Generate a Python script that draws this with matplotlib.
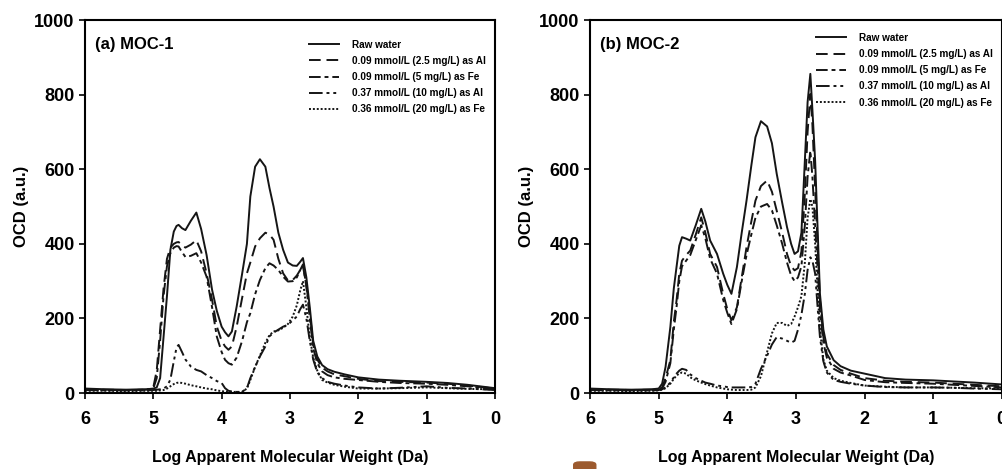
import matplotlib
matplotlib.use('Agg')
import matplotlib.pyplot as plt
from matplotlib.patches import FancyBboxPatch

plt.rcParams['font.family'] = ['Liberation Sans', 'DejaVu Sans']
plt.rcParams['font.weight'] = 'bold'

labels = ['Raw water',
          '0.09 mmol/L (2.5 mg/L) as Al',
          '0.09 mmol/L (5 mg/L) as Fe',
          '0.37 mmol/L (10 mg/L) as Al',
          '0.36 mmol/L (20 mg/L) as Fe']
styles = ['-', (0, (6, 3)), (0, (6, 2, 2, 2)), (0, (7, 2, 1.5, 2, 1.5, 2)), (0, (1, 1))]

# ---- panel (a) MOC-1 ----
xa = [6.0, 5.7, 5.4, 5.1, 5.0, 4.95, 4.9, 4.85, 4.8, 4.75, 4.7, 4.66, 4.63, 4.58, 4.53, 4.45,
      4.37, 4.3, 4.22, 4.14, 4.07, 4.0, 3.95, 3.9, 3.85, 3.78, 3.7, 3.63, 3.58, 3.51, 3.44,
      3.36, 3.3, 3.24, 3.17, 3.1, 3.03, 2.96, 2.9, 2.85, 2.81, 2.76, 2.71, 2.66, 2.6, 2.53,
      2.45, 2.35, 2.2, 2.0, 1.7, 1.4, 1.0, 0.7, 0.4, 0.0]
a_raw = [12, 10, 9, 10, 12, 15, 40, 150, 260, 384, 433, 448, 451, 442, 437, 462,
         484, 440, 370, 277, 220, 178, 163, 152, 165, 232, 320, 400, 527, 607, 627,
         607, 550, 500, 430, 384, 350, 342, 341, 352, 362, 310, 230, 140, 98, 75,
         64, 57, 50, 42, 36, 33, 30, 27, 22, 13]
a_al25 = [10, 9, 8, 9, 15, 60, 170, 280, 360, 390, 400, 404, 405, 397, 390, 398,
          410, 380, 321, 250, 178, 140, 125, 116, 125, 178, 255, 321, 350, 393, 415,
          430, 425, 411, 360, 321, 302, 303, 315, 330, 340, 290, 215, 130, 90, 68,
          58, 50, 45, 38, 32, 30, 28, 25, 20, 12]
a_fe5 = [9, 8, 8, 9, 12, 40, 140, 260, 340, 375, 390, 394, 393, 378, 365, 368,
         375, 350, 312, 230, 151, 110, 89, 80, 76, 95, 140, 190, 214, 265, 303,
         335, 348, 342, 330, 312, 299, 300, 310, 330, 345, 285, 200, 120, 80, 58,
         48, 42, 38, 35, 30, 27, 25, 22, 18, 10]
a_al10 = [8, 7, 7, 7, 8, 9, 10, 12, 18, 36, 85, 122, 129, 110, 90, 71,
          62, 58, 48, 40, 32, 27, 13, 6, 4, 3, 3, 13, 40, 70, 98,
          125, 152, 162, 170, 178, 183, 195, 205, 225, 237, 200, 140, 90, 55, 40,
          30, 25, 20, 15, 12, 14, 18, 14, 12, 8]
a_fe20 = [6, 6, 5, 6, 6, 6, 7, 8, 12, 18, 24, 27, 28, 27, 25, 21,
          18, 15, 12, 10, 7, 5, 4, 4, 3, 3, 3, 12, 35, 70, 100,
          135, 155, 165, 168, 175, 185, 205, 235, 275, 300, 230, 150, 95, 60, 35,
          28, 22, 17, 12, 12, 13, 15, 13, 11, 10]

# ---- panel (b) MOC-2 ----
xb = [6.0, 5.7, 5.4, 5.1, 5.0, 4.95, 4.9, 4.83, 4.78, 4.74, 4.7, 4.66, 4.6, 4.54, 4.46,
      4.38, 4.32, 4.25, 4.15, 4.06, 4.0, 3.94, 3.86, 3.79, 3.72, 3.65, 3.59, 3.51, 3.42,
      3.35, 3.28, 3.2, 3.13, 3.07, 3.02, 2.97, 2.92, 2.87, 2.83, 2.79, 2.76, 2.72, 2.68,
      2.65, 2.6, 2.55, 2.45, 2.35, 2.2, 2.0, 1.7, 1.4, 1.0, 0.7, 0.4, 0.0]
b_raw = [12, 10, 9, 10, 12, 25, 70, 177, 280, 338, 395, 418, 414, 409, 450,
         494, 460, 409, 373, 320, 290, 266, 338, 430, 516, 610, 686, 729, 715,
         670, 588, 510, 445, 400, 373, 380, 430, 623, 780, 856, 760, 623, 420,
         266, 170, 125, 88, 72, 60, 52, 40, 36, 34, 31, 28, 23]
b_al25 = [10, 9, 8, 9, 10, 15, 40, 88, 190, 248, 320, 355, 370, 382, 425,
          471, 430, 373, 338, 266, 225, 195, 230, 310, 391, 460, 516, 555, 570,
          540, 489, 430, 373, 340, 329, 335, 380, 535, 700, 802, 720, 550, 380,
          250, 150, 105, 75, 62, 52, 40, 33, 30, 28, 25, 22, 18]
b_fe5 = [9, 8, 8, 8, 9, 12, 30, 80, 170, 230, 300, 340, 355, 370, 410,
         450, 415, 360, 320, 250, 215, 185, 225, 300, 370, 425, 470, 500, 507,
         490, 450, 400, 350, 315, 300, 310, 340, 450, 580, 650, 580, 450, 320,
         220, 135, 95, 65, 55, 47, 35, 29, 27, 25, 22, 19, 15]
b_al10 = [8, 7, 7, 7, 8, 10, 15, 28, 42, 52, 60, 65, 62, 50, 40,
          33, 28, 25, 20, 18, 16, 15, 15, 15, 15, 16, 25, 65, 100,
          130, 150, 146, 140, 135, 140, 170, 210, 266, 330, 364, 355, 320, 220,
          150, 85, 55, 35, 30, 25, 20, 16, 15, 15, 14, 12, 10]
b_fe20 = [6, 6, 5, 6, 7, 9, 13, 25, 38, 47, 52, 55, 52, 42, 34,
          28, 24, 20, 15, 12, 10, 9, 8, 8, 8, 9, 15, 45, 110,
          160, 188, 188, 180, 185, 205, 230, 260, 350, 470, 520, 500, 400, 260,
          170, 90, 60, 40, 33, 27, 20, 17, 15, 15, 14, 13, 12]

panels = [
    ('(a) MOC-1', xa, [a_raw, a_al25, a_fe5, a_al10, a_fe20], 0.972),
    ('(b) MOC-2', xb, [b_raw, b_al25, b_fe5, b_al10, b_fe20], 0.99),
]

fig = plt.figure(figsize=(10.03, 4.69), dpi=100)
axes_pos = [[0.0847, 0.162, 0.4088, 0.795], [0.5883, 0.162, 0.4105, 0.795]]

for pos, (title, x, series, leg_top) in zip(axes_pos, panels):
    ax = fig.add_axes(pos)
    for y, ls, lab in zip(series, styles, labels):
        ax.plot(x, y, color='#151515', lw=1.4, linestyle=ls, label=lab)
    ax.set_xlim(6, 0)
    ax.set_ylim(0, 1000)
    ax.set_xticks([6, 5, 4, 3, 2, 1, 0])
    ax.set_yticks([0, 200, 400, 600, 800, 1000])
    ax.tick_params(axis='both', labelsize=13, length=4, width=1.2, direction='out')
    ax.tick_params(axis='x', pad=9)
    for sp in ax.spines.values():
        sp.set_linewidth(1.5)
    ax.set_xlabel('Log Apparent Molecular Weight (Da)', fontsize=11.5, fontweight='bold', labelpad=16)
    ax.set_ylabel('OCD (a.u.)', fontsize=12, fontweight='bold', labelpad=4)
    ax.text(0.025, 0.935, title, transform=ax.transAxes, fontsize=12,
            fontweight='bold', va='center', ha='left')
    ax.legend(loc='upper right', bbox_to_anchor=(1.0, leg_top), frameon=False,
              handlelength=3.0, handletextpad=1.3, labelspacing=0.62,
              prop={'size': 7.2, 'weight': 'bold'})

# small brown mark under the right panel
fig.patches.append(FancyBboxPatch((0.572, -0.01), 0.022, 0.025, boxstyle='round,pad=0,rounding_size=0.006',
                                  transform=fig.transFigure, color='#9c5a2e', zorder=5))

fig.savefig('out.png', dpi=100)
